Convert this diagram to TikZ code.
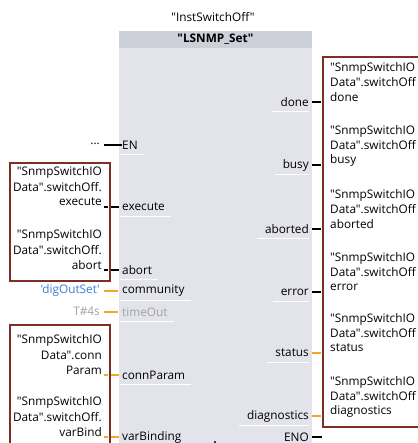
\documentclass[tikz,border=0pt]{standalone}
\usepackage{fontspec}
\setmainfont{Open Sans}[Ligatures=TeXOff]
\definecolor{blockfill}{HTML}{E3E3EB}
\definecolor{titlefill}{HTML}{CDCFD9}
\definecolor{framebrown}{HTML}{7D2E25}
\definecolor{pinorange}{HTML}{F5A623}
\definecolor{constblue}{HTML}{3E7CD6}
\definecolor{constgrey}{HTML}{A3A3A3}
\tikzset{
  txt/.style={inner sep=0pt, font=\fontsize{11.8}{15}\selectfont},
  pinlabel/.style={txt},
  frame/.style={draw=framebrown, line width=2pt},
  wire/.style={line width=1.6pt},
  hl/.style={draw=white, line width=0.8pt},
}
\begin{document}
\begin{tikzpicture}[x=1pt,y=-1pt]
\useasboundingbox (0,0) rectangle (417,443);
\fill[white] (0,0) rectangle (417,443);

% function block body and title bar
\fill[blockfill] (119,31) rectangle (312,450);
\fill[titlefill] (119,31) rectangle (312,48);
\node[txt, font=\fontsize{11.8}{15}\selectfont\bfseries] (title) at (215.5,39.5) {"LSNMP\_Set"};
\node[txt] (inst) at (213,17) {"InstSwitchOff"};

% operand frames
\draw[frame] (10,163) rectangle (110,281);
\draw[frame] (10,325) rectangle (110,460);
\draw[frame] (323,57) rectangle (430,427);

% input pins
\foreach \nm/\lab/\y/\col in {en/EN/145/black, ex/execute/207/black, ab/abort/270/black,
    co/community/291/black, to/timeOut/312/constgrey, cp/connParam/375/black, vb/varBinding/437/black}{
  \node[pinlabel, anchor=west, text=\col] (in-\nm) at (122,\y) {\lab};
  \draw[hl] ([yshift=-9.5pt]in-\nm.west) ++(-2,0) -- ([yshift=-9.5pt]in-\nm.east) -- ++(6,0);
}

% output pins
\foreach \nm/\lab/\y in {dn/done/102, bs/busy/165, at/aborted/229, er/error/292,
    st/status/353, dg/diagnostics/416, eno/ENO/437}{
  \node[pinlabel, anchor=east] (out-\nm) at (309,\y) {\lab};
  \draw[hl] ([yshift=-9.5pt]out-\nm.west) ++(-8,0) -- ([yshift=-9.5pt]out-\nm.east);
}

% left operand texts
\foreach \nm/\la/\lb/\lc/\y in {ex/"SnmpSwitchIO/Data".switchOff./execute/207,
    ab/"SnmpSwitchIO/Data".switchOff./abort/270,
    cp/"SnmpSwitchIO/Data".conn/Param/375,
    vb/"SnmpSwitchIO/Data".switchOff./varBind/437}{
  \node[txt, anchor=east] (op-\nm-a) at (102,\y-35) {\la};
  \node[txt, anchor=east] (op-\nm-b) at (102,\y-20) {\lb};
  \node[txt, anchor=east] (op-\nm-c) at (102,\y-5) {\lc};
  \coordinate (op-\nm) at (104,\y);
}

% right operand texts
\foreach \nm/\lc/\y in {dn/done/102, bs/busy/165, at/aborted/229, er/error/292,
    st/status/353, dg/diagnostics/416}{
  \node[txt, anchor=west] (res-\nm-a) at (330,\y-34) {"SnmpSwitchIO};
  \node[txt, anchor=west] (res-\nm-b) at (330,\y-19.5) {Data".switchOff};
  \node[txt, anchor=west] (res-\nm-c) at (330,\y-5) {\lc};
  \coordinate (res-\nm) at (323,\y);
}

% constants
\node[txt, anchor=east] (dots) at (100,144) {...};
\node[txt, anchor=east, text=constblue] (cst-co) at (100,290) {'digOutSet'};
\node[txt, anchor=east, text=constgrey] (cst-to) at (100,311) {T\#4s};
\coordinate (eno-end) at (322,437);

% input wires
\draw[wire] (dots.east) ++(4,1) coordinate (en-a) (en-a) -- (en-a -| in-en.west) ++(-3,0);
\draw[wire] (op-ex) -- ++(4,0) ++(3,0) -- ([xshift=-3pt]in-ex.west |- op-ex);
\draw[wire] (op-ab) -- ++(4,0) ++(3,0) -- ([xshift=-3pt]in-ab.west |- op-ab);
\draw[wire, pinorange] ([xshift=4pt]cst-co.east |- in-co) -- ([xshift=-4pt]in-co.west);
\draw[wire, pinorange] ([xshift=4pt]cst-to.east |- in-to) -- ([xshift=-4pt]in-to.west);
\draw[wire, pinorange] (op-cp) -- ++(4,0) ++(3,0) -- ([xshift=-3pt]in-cp.west |- op-cp);
\draw[wire, pinorange] (op-vb) -- ++(4,0) ++(3,0) -- ([xshift=-3pt]in-vb.west |- op-vb);

% output wires
\foreach \nm in {dn, bs, at, er}{
  \draw[wire] ([xshift=3pt]out-\nm.east |- res-\nm) -- ([xshift=-2pt]res-\nm);
}
\foreach \nm in {st, dg}{
  \draw[wire, pinorange] ([xshift=3pt]out-\nm.east |- res-\nm) -- ([xshift=-2pt]res-\nm);
}
\draw[wire] ([xshift=3pt]out-eno.east) -- (eno-end);

% small marker under the block
\fill (215,442) circle (1.2);
\end{tikzpicture}
\end{document}
